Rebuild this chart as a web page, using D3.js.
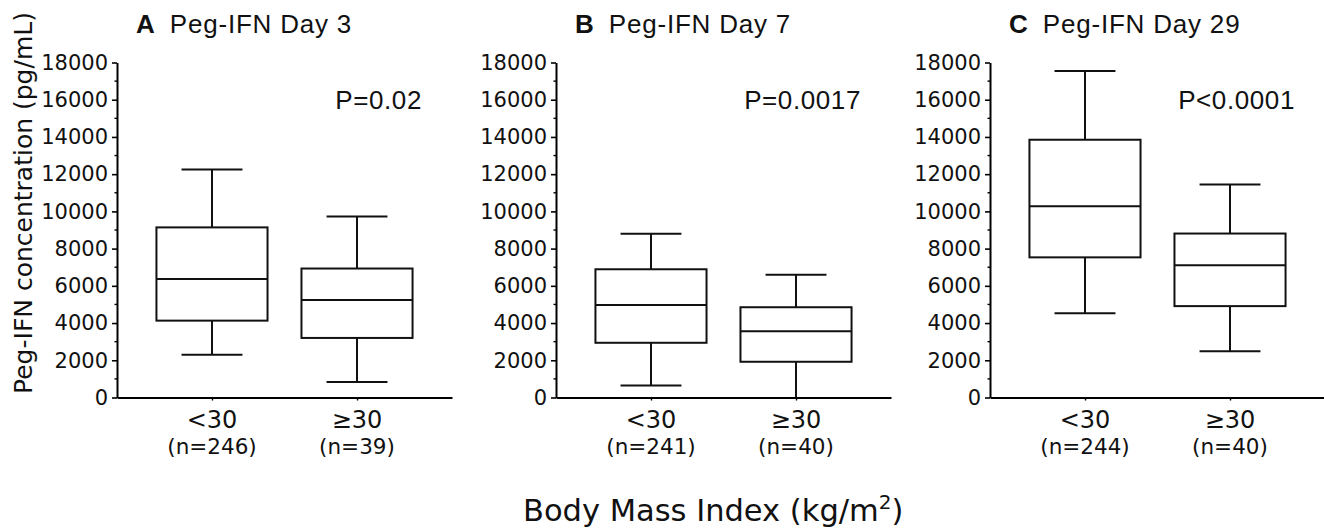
<!DOCTYPE html>
<html><head><meta charset="utf-8">
<script src="https://cdn.jsdelivr.net/npm/d3@7"></script>
<style>
body{margin:0;background:#fff;}
svg{display:block;}
</style>
</head><body>
<svg id="c" width="1324" height="530"></svg>
<script>
// ---- data ----
const categories = ["<30", "\u226530"];
const panelLetters = ["A", "B", "C"];
const panelTitles = ["Peg-IFN Day 3", "Peg-IFN Day 7", "Peg-IFN Day 29"];
const pValues = ["P=0.02", "P=0.0017", "P<0.0001"];
const nLabels = [["(n=246)", "(n=39)"], ["(n=241)", "(n=40)"], ["(n=244)", "(n=40)"]];
// each box: [whiskerLow, Q1, median, Q3, whiskerHigh]
const day3Boxes  = [[2300, 4130, 6370, 9140, 12250], [830, 3200, 5240, 6930, 9730]];
const day7Boxes  = [[650, 2940, 4970, 6890, 8800], [0, 1920, 3560, 4850, 6590]];
const day29Boxes = [[4530, 7530, 10270, 13850, 17540], [2480, 4910, 7100, 8810, 11440]];
const yTicks = [0, 2000, 4000, 6000, 8000, 10000, 12000, 14000, 16000, 18000];
const yMinorTicks = d3.range(1000, 18000, 2000);
const yLabel = "Peg-IFN concentration (pg/mL)";
const xLabel = "Body Mass Index (kg/m";

const panels = [day3Boxes, day7Boxes, day29Boxes];
const svg = d3.select("#c");
const axisX = [117, 556, 990];
const axisLen = 335;
const yTop = 62.5, yBot = 397.5;
const y = d3.scaleLinear().domain([0, 18000]).range([yBot, yTop]);
const sans = "DejaVu Sans, sans-serif";

panels.forEach((boxes, pi) => {
  const g = svg.append("g").attr("transform", `translate(${axisX[pi]},0)`);
  const x = d3.scalePoint().domain(categories).range([0, axisLen]).padding(0.655);
  const step = x.step();
  const bw = step * 0.766, cap = step * 0.21;

  // y axis
  const ya = g.append("g").call(d3.axisLeft(y).tickValues(yTicks).tickSize(5).tickPadding(4).tickSizeOuter(0).tickFormat(d3.format("d")));
  ya.attr("font-family", sans).attr("font-size", 21);
  ya.select(".domain").attr("stroke-width", 2);
  ya.selectAll(".tick line").attr("stroke-width", 1.6);
  ya.selectAll(".tick text").attr("fill", "#111");
  g.append("g").selectAll("line").data(yMinorTicks).join("line")
    .attr("x1", -2.5).attr("x2", 0).attr("y1", d => y(d)).attr("y2", d => y(d))
    .attr("stroke", "#000").attr("stroke-width", 1.4);

  // x axis
  const xa = g.append("g").attr("transform", `translate(0,${yBot})`)
    .call(d3.axisBottom(x).tickSize(3).tickSizeOuter(0).tickFormat(""));
  xa.select(".domain").attr("stroke-width", 2);
  xa.selectAll(".tick line").attr("stroke-width", 1.4);

  // category labels
  g.selectAll("text.cat").data(categories).join("text").attr("class", "cat")
    .attr("x", d => x(d)).attr("y", 428).attr("text-anchor", "middle")
    .attr("font-family", sans).attr("font-size", 24).attr("fill", "#111")
    .text(d => d);
  g.selectAll("text.n").data(nLabels[pi]).join("text").attr("class", "n")
    .attr("x", (d, i) => x(categories[i])).attr("y", 454).attr("text-anchor", "middle")
    .attr("font-family", sans).attr("font-size", 21.5).attr("fill", "#111")
    .text(d => d);

  // boxes
  boxes.forEach((b, i) => {
    const cx = x(categories[i]);
    const bg = g.append("g").attr("stroke", "#111").attr("stroke-width", 2).attr("fill", "none");
    bg.append("line").attr("x1", cx).attr("x2", cx).attr("y1", y(b[0])).attr("y2", y(b[1]));
    bg.append("line").attr("x1", cx).attr("x2", cx).attr("y1", y(b[3])).attr("y2", y(b[4]));
    if (b[0] > 0) bg.append("line").attr("x1", cx - cap).attr("x2", cx + cap).attr("y1", y(b[0])).attr("y2", y(b[0]));
    bg.append("line").attr("x1", cx - cap).attr("x2", cx + cap).attr("y1", y(b[4])).attr("y2", y(b[4]));
    bg.append("rect").attr("x", cx - bw / 2).attr("width", bw).attr("y", y(b[3])).attr("height", y(b[1]) - y(b[3])).attr("fill", "#fff");
    bg.append("line").attr("x1", cx - bw / 2).attr("x2", cx + bw / 2).attr("y1", y(b[2])).attr("y2", y(b[2]));
  });

  // title
  const t = g.append("text").attr("x", 19).attr("y", 33)
    .attr("font-family", "Liberation Sans, Arial, sans-serif").attr("font-size", 26).attr("fill", "#111");
  t.append("tspan").attr("font-weight", "bold").text(panelLetters[pi]);
  t.append("tspan").attr("dx", 15).attr("letter-spacing", 0.8).text(panelTitles[pi]);

  // p value
  g.append("text").attr("x", 305).attr("y", 109).attr("text-anchor", "end")
    .attr("font-family", "Liberation Sans, Arial, sans-serif").attr("font-size", 26).attr("letter-spacing", 0.6).attr("fill", "#111")
    .text(pValues[pi]);
});

// y label
svg.append("text").attr("transform", "translate(32,203) rotate(-90)").attr("text-anchor", "middle")
  .attr("font-family", sans).attr("font-size", 25).attr("fill", "#111")
  .text(yLabel);

// x label
const xl = svg.append("text").attr("x", 523).attr("y", 521)
  .attr("font-family", sans).attr("font-size", 30.5).attr("fill", "#111");
xl.append("tspan").text(xLabel);
xl.append("tspan").attr("font-size", 20).attr("dy", -12).text("2");
xl.append("tspan").attr("dy", 12).text(")");
</script>
</body></html>
